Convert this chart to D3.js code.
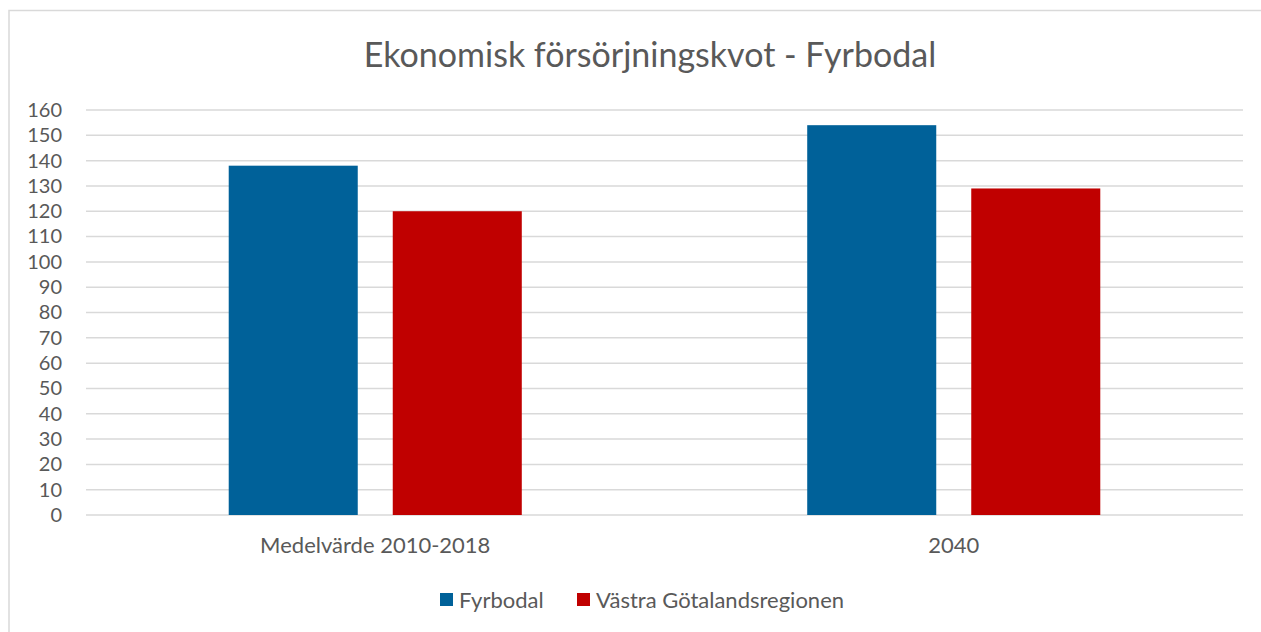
<!DOCTYPE html>
<html>
<head>
<meta charset="utf-8">
<script src="https://cdn.jsdelivr.net/npm/d3@7"></script>
<style>
  body { margin: 0; background: #fff; }
  text { font-family: Lato, "Open Sans", sans-serif; fill: #595959; }
</style>
</head>
<body>
<svg id="chart" width="1261" height="632"></svg>
<script>
// data
const categories = ["Medelvärde 2010-2018", "2040"];
const seriesNames = ["Fyrbodal", "Västra Götalandsregionen"];
const fyrbodal = [138, 154];
const vgr = [120, 129];
const yTicks = [0, 10, 20, 30, 40, 50, 60, 70, 80, 90, 100, 110, 120, 130, 140, 150, 160];

const colors = ["#006199", "#C00000"];

const svg = d3.select("#chart");
const width = 1261, height = 632;
const margin = { left: 86, right: 18, top: 110, bottom: 117 };

// border of chart area
svg.append("rect")
    .attr("x", 9).attr("y", 10.5)
    .attr("width", 1270).attr("height", 640)
    .attr("fill", "none")
    .attr("stroke", "#d9d9d9")
    .attr("stroke-width", 1.5);

const x0 = d3.scaleBand()
    .domain(categories)
    .range([margin.left, width - margin.right])
    .padding(0);

const x1 = d3.scaleBand()
    .domain(seriesNames)
    .range([0, x0.bandwidth()])
    .paddingInner(0.2134)
    .paddingOuter(0.87);

const y = d3.scaleLinear()
    .domain([0, 160])
    .range([height - margin.bottom, margin.top]);

// gridlines
svg.append("g")
    .selectAll("line")
    .data(yTicks)
    .enter().append("line")
    .attr("x1", margin.left)
    .attr("x2", width - margin.right)
    .attr("y1", d => y(d))
    .attr("y2", d => y(d))
    .attr("stroke", "#d9d9d9")
    .attr("stroke-width", 1.5);

// y axis labels
const yAxis = svg.append("g")
    .attr("transform", `translate(${margin.left - 24},0)`)
    .call(d3.axisLeft(y).tickValues(yTicks).tickSize(0).tickPadding(0));
yAxis.select(".domain").remove();
yAxis.selectAll("text")
    .attr("font-size", 20)
    .attr("fill", "#595959")
    .style("font-family", "Lato, 'Open Sans', sans-serif");

// bars
const rows = categories.map((c, i) => ({ cat: c, vals: [fyrbodal[i], vgr[i]] }));
const groups = svg.append("g")
    .selectAll("g")
    .data(rows)
    .enter().append("g")
    .attr("transform", d => `translate(${x0(d.cat)},0)`);

groups.selectAll("rect")
    .data(d => d.vals.map((v, j) => ({ name: seriesNames[j], value: v, idx: j })))
    .enter().append("rect")
    .attr("x", d => x1(d.name))
    .attr("y", d => y(d.value))
    .attr("width", x1.bandwidth())
    .attr("height", d => y(0) - y(d.value))
    .attr("fill", d => colors[d.idx]);

// category labels
const xAxis = svg.append("g")
    .attr("transform", `translate(0,${y(0) + 22})`)
    .call(d3.axisBottom(x0).tickSize(0).tickPadding(0));
xAxis.select(".domain").remove();
xAxis.selectAll("text")
    .attr("font-size", 22)
    .attr("fill", "#595959")
    .style("font-family", "Lato, 'Open Sans', sans-serif");

// title
svg.append("text")
    .attr("x", 650)
    .attr("y", 67)
    .attr("text-anchor", "middle")
    .attr("font-size", 34)
    .text("Ekonomisk försörjningskvot - Fyrbodal");

// legend
const legendX = [440, 577];
const legend = svg.append("g")
    .selectAll("g")
    .data(seriesNames)
    .enter().append("g")
    .attr("transform", (d, i) => `translate(${legendX[i]},593)`);
legend.append("rect")
    .attr("width", 13).attr("height", 13)
    .attr("fill", (d, i) => colors[i]);
legend.append("text")
    .attr("x", 19)
    .attr("y", 14.5)
    .attr("font-size", 22)
    .text(d => d);
</script>
</body>
</html>
